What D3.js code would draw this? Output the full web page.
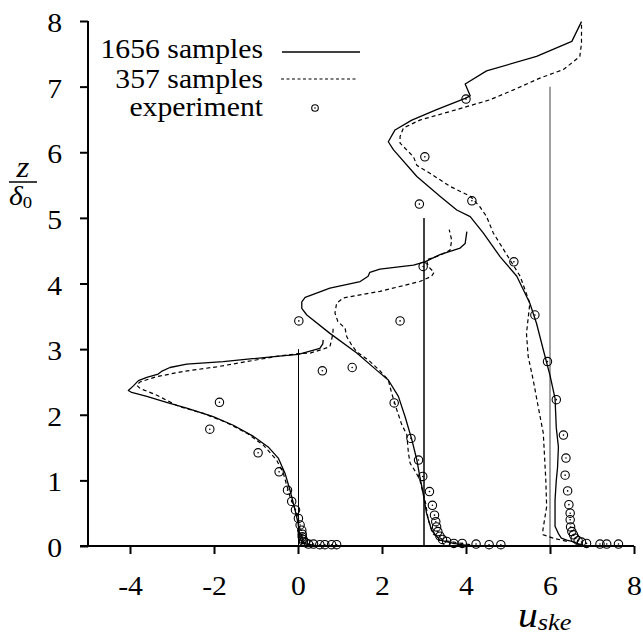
<!DOCTYPE html>
<html>
<head>
<meta charset="utf-8">
<script src="https://cdn.jsdelivr.net/npm/d3@7"></script>
<style>
  html, body { margin: 0; padding: 0; background: #fff; }
  svg text { font-family: "Liberation Serif", "Times New Roman", serif; fill: #000; }
</style>
</head>
<body>
<svg id="chart" width="643" height="636"></svg>
<script>
// Stations are drawn side by side: each profile is shifted along the u axis by its offset.
const stationOffsets = [0, 3, 6];
const stationHeights = [3, 5, 7];

const xTicks = [-4, -2, 0, 2, 4, 6, 8];
const yTicks = [0, 1, 2, 3, 4, 5, 6, 7, 8];

const legendLabels = ["1656 samples", "357 samples", "experiment"];

// 1656 samples, station 1 (shifted position, z/delta0)
const fine1 = [[1.48,0.0],[0.4,0.01],[0.12,0.04],[0.05,0.12],[0.0,0.35],[-0.07,0.55],[-0.19,0.85],[-0.31,1.11],[-0.47,1.34],[-0.71,1.51],[-1.06,1.67],[-1.54,1.84],[-2.02,1.97],[-2.65,2.10],[-3.13,2.19],[-3.60,2.28],[-3.96,2.34],[-4.04,2.37],[-3.92,2.44],[-3.80,2.52],[-3.60,2.57],[-3.33,2.62],[-3.25,2.66],[-3.05,2.72],[-2.65,2.77],[-1.78,2.81],[-1.14,2.85],[-0.51,2.89],[0.01,2.92],[0.52,3.01],[0.59,3.08],[0.60,3.14]];
// 357 samples, station 1
const coarse1 = [[0.3,0.01],[0.1,0.06],[0.06,0.2],[0.0,0.45],[-0.19,0.75],[-0.35,1.11],[-0.51,1.31],[-0.83,1.54],[-1.22,1.72],[-1.70,1.88],[-2.25,2.02],[-2.85,2.13],[-3.37,2.30],[-3.76,2.40],[-3.84,2.45],[-3.76,2.50],[-3.37,2.58],[-2.73,2.66],[-1.94,2.73],[-1.22,2.81],[-0.51,2.89],[0.0,2.93],[0.29,2.94],[0.60,3.0],[0.76,3.04],[0.80,3.14],[0.83,3.24],[0.84,3.35]];

// station 2
const fine2 = [[4.02,0.01],[3.70,0.04],[3.38,0.09],[3.18,0.24],[3.06,0.50],[2.98,0.80],[2.90,1.06],[2.83,1.31],[2.71,1.62],[2.55,1.97],[2.39,2.28],[2.15,2.53],[1.87,2.68],[1.40,2.94],[0.76,3.24],[0.21,3.52],[0.09,3.62],[0.09,3.72],[0.17,3.79],[0.76,3.93],[1.48,4.03],[1.67,4.11],[1.71,4.17],[1.95,4.22],[2.75,4.28],[3.02,4.33],[3.38,4.44],[3.86,4.54],[3.98,4.61],[4.02,4.79]];
const coarse2 = [[4.1,0.02],[3.50,0.08],[3.22,0.18],[3.10,0.40],[3.04,0.65],[2.98,0.80],[2.90,1.01],[2.79,1.14],[2.67,1.26],[2.63,1.41],[2.59,1.70],[2.47,1.85],[2.35,2.08],[2.23,2.33],[2.15,2.53],[1.95,2.67],[1.70,2.82],[1.40,2.96],[1.28,3.06],[1.16,3.19],[1.12,3.32],[0.95,3.42],[0.88,3.55],[0.92,3.70],[1.08,3.78],[1.95,3.88],[2.90,4.03],[3.18,4.11],[3.24,4.17],[3.10,4.26],[3.06,4.36],[3.38,4.43],[3.62,4.51],[3.66,4.66],[3.60,4.82]];

// station 3
const fine3 = [[6.8,0.01],[6.64,0.04],[6.52,0.07],[6.40,0.09],[6.27,0.12],[6.20,0.19],[6.12,0.30],[6.12,0.50],[6.12,0.70],[6.15,1.0],[6.18,1.20],[6.20,1.51],[6.15,1.80],[6.12,2.25],[6.0,2.60],[5.84,2.99],[5.68,3.39],[5.52,3.70],[5.21,4.11],[4.81,4.41],[4.41,4.77],[4.10,5.02],[3.78,5.12],[3.38,5.33],[2.83,5.63],[2.27,6.04],[2.15,6.16],[2.31,6.34],[2.71,6.49],[3.30,6.65],[3.98,6.82],[4.10,6.86],[3.98,7.04],[4.49,7.24],[5.68,7.46],[6.52,7.69],[6.75,7.99]];
const coarse3 = [[6.40,0.07],[6.08,0.12],[5.84,0.17],[5.83,0.24],[5.92,0.60],[5.90,1.01],[5.84,1.72],[5.72,2.12],[5.60,2.53],[5.48,2.89],[5.44,3.24],[5.52,3.70],[5.29,4.11],[4.65,4.77],[4.49,5.02],[4.33,5.17],[4.10,5.33],[3.62,5.48],[3.14,5.68],[2.83,5.80],[2.75,5.93],[2.43,6.14],[2.43,6.24],[2.51,6.37],[2.90,6.49],[3.78,6.65],[4.57,6.80],[5.13,6.95],[5.76,7.13],[6.32,7.26],[6.71,7.46],[6.75,7.66],[6.75,7.97]];

// measurements
const exp1 = [[-1.87,2.19],[-2.10,1.78],[-0.95,1.42],[-0.45,1.13],[-0.25,0.85],[-0.15,0.68],[-0.06,0.55],[0.01,0.42],[0.05,0.32],[0.09,0.24],[0.10,0.18],[0.10,0.14],[0.12,0.10],[0.13,0.07],[0.18,0.05],[0.25,0.03],[0.37,0.03],[0.52,0.02],[0.64,0.02],[0.80,0.02],[0.92,0.02],[0.58,2.67],[0.02,3.43]];
const exp2 = [[2.29,2.18],[2.69,1.64],[2.87,1.31],[2.97,1.06],[3.13,0.83],[3.20,0.62],[3.25,0.47],[3.28,0.37],[3.30,0.29],[3.33,0.22],[3.38,0.15],[3.44,0.10],[3.54,0.07],[3.71,0.04],[3.91,0.04],[4.24,0.03],[4.55,0.02],[4.83,0.02],[1.29,2.72],[2.43,3.43],[2.98,4.26],[2.89,5.21]];
const exp3 = [[4.0,6.81],[3.02,5.93],[4.14,5.26],[5.14,4.33],[5.64,3.52],[5.94,2.81],[6.15,2.23],[6.32,1.69],[6.38,1.34],[6.36,1.08],[6.42,0.84],[6.45,0.63],[6.48,0.50],[6.48,0.40],[6.49,0.29],[6.52,0.22],[6.56,0.17],[6.60,0.12],[6.67,0.08],[6.75,0.06],[6.87,0.04],[7.19,0.03],[7.35,0.03],[7.63,0.03]];

const svg = d3.select("#chart");
const x = d3.scaleLinear().domain([-5, 8]).range([88, 634]);
const y = d3.scaleLinear().domain([0, 8]).range([546, 21]);
const stretch = 1.1;   // horizontally widened serif lettering
const fontSize = 27;

// station reference lines
const refColors = ["#000", "#000", "#808080"];
const refWidths = [1, 1.5, 1.5];
stationOffsets.forEach((o, i) => {
  const px = Math.round(x(o)) + (refWidths[i] === 1 ? 0.5 : 0);
  svg.append("line")
    .attr("x1", px).attr("x2", px)
    .attr("y1", y(0)).attr("y2", y(stationHeights[i]))
    .attr("stroke", refColors[i]).attr("stroke-width", refWidths[i]);
});

const line = d3.line().x(d => x(d[0])).y(d => y(d[1]));
[fine1, fine2, fine3].forEach(s => {
  svg.append("path").attr("d", line(s)).attr("fill", "none")
    .attr("stroke", "#000").attr("stroke-width", 1.3).attr("stroke-linejoin", "round");
});
[coarse1, coarse2, coarse3].forEach(s => {
  svg.append("path").attr("d", line(s)).attr("fill", "none")
    .attr("stroke", "#000").attr("stroke-width", 1.2).attr("stroke-dasharray", "4,3");
});

function marker(g, cx, cy, r) {
  g.append("circle").attr("cx", cx).attr("cy", cy).attr("r", r)
    .attr("fill", "none").attr("stroke", "#000").attr("stroke-width", 1.1);
  g.append("circle").attr("cx", cx).attr("cy", cy).attr("r", 0.8).attr("fill", "#000");
}
const expG = svg.append("g");
[exp1, exp2, exp3].forEach(s => s.forEach(d => marker(expG, x(d[0]), y(d[1]), 4.2)));

// axes (plain hyphen for negative labels)
const fmt = d => String(d);
const xAxis = d3.axisBottom(x).tickValues(xTicks).tickSize(8).tickSizeOuter(0).tickPadding(0).tickFormat(fmt);
const gx = svg.append("g").attr("transform", `translate(0,${y(0)})`).call(xAxis);
const yAxis = d3.axisLeft(y).tickValues(yTicks).tickSize(8).tickSizeOuter(0).tickPadding(0).tickFormat(fmt);
const gy = svg.append("g").attr("transform", `translate(${x(-5)},0)`).call(yAxis);
[gx, gy].forEach(g => {
  g.select(".domain").attr("stroke", "#000").attr("stroke-width", 2);
  g.selectAll(".tick line").attr("stroke", "#000").attr("stroke-width", 2);
  g.selectAll(".tick text").attr("font-family", "Liberation Serif").attr("font-size", fontSize).attr("fill", "#000");
});
gx.select(".domain").attr("d", `M${x(-5)},0H${x(8)}`);
gy.select(".domain").attr("d", `M0,${y(8)}V${y(0)}H-8`);
gx.selectAll(".tick text").attr("y", 0).attr("dy", 0)
  .attr("transform", `translate(0,49) scale(${stretch},1)`);
gy.selectAll(".tick text").attr("x", 0).attr("dy", 0).attr("text-anchor", "end")
  .attr("transform", `translate(-26,10.5) scale(${stretch},1)`);

// axis titles
const xt = svg.append("text").attr("transform", `translate(518,627) scale(${stretch},1)`)
  .attr("font-style", "italic");
xt.append("tspan").attr("font-size", 36).text("u");
xt.append("tspan").attr("font-size", 24).attr("dy", 3).text("ske");

svg.append("text").attr("transform", `translate(23,177) scale(${stretch},1)`)
  .attr("text-anchor", "middle").attr("font-style", "italic").attr("font-size", 30).text("z");
svg.append("line").attr("x1", 9).attr("x2", 37).attr("y1", 182).attr("y2", 182)
  .attr("stroke", "#000").attr("stroke-width", 1.5);
const dl = svg.append("text").attr("transform", `translate(9,205) scale(${stretch},1)`);
dl.append("tspan").attr("font-style", "italic").attr("font-size", 27).text("δ");
dl.append("tspan").attr("font-size", 17).attr("dy", 3).text("0");

// legend
const legendY = [57.5, 88, 116];
const legendMarkY = [52, 79, 108];
legendLabels.forEach((t, i) => {
  svg.append("text").attr("transform", `translate(263,${legendY[i]}) scale(${stretch},1)`)
    .attr("text-anchor", "end").attr("font-size", fontSize).text(t);
});
svg.append("line").attr("x1", 282).attr("x2", 360).attr("y1", legendMarkY[0]).attr("y2", legendMarkY[0])
  .attr("stroke", "#000").attr("stroke-width", 1.3);
svg.append("line").attr("x1", 281).attr("x2", 358).attr("y1", legendMarkY[1]).attr("y2", legendMarkY[1])
  .attr("stroke", "#000").attr("stroke-width", 1.2).attr("stroke-dasharray", "3,2.5");
marker(svg, 315, legendMarkY[2], 3.3);
</script>
</body>
</html>
